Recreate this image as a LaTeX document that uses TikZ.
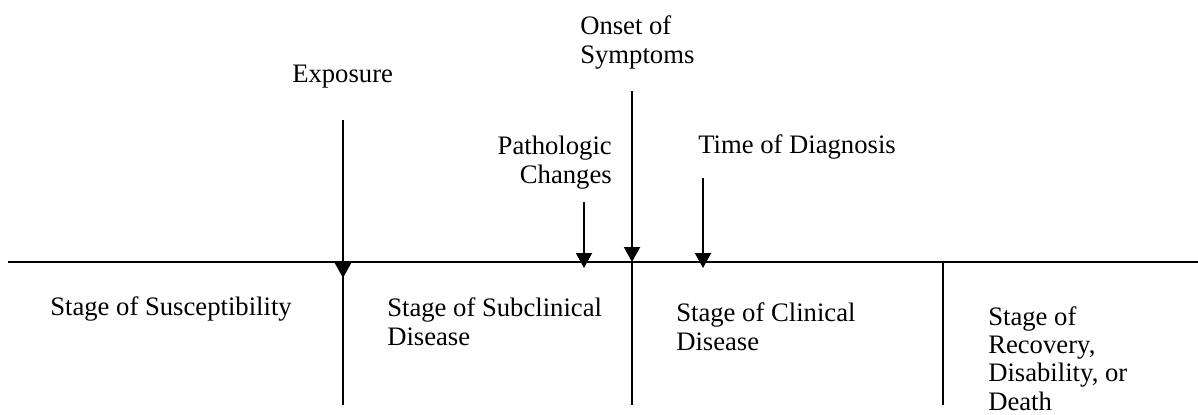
\documentclass[tikz,border=0pt]{standalone}
\usepackage{fontspec}
\setmainfont{Liberation Serif}
\usetikzlibrary{arrows.meta}
\tikzstyle{lbl}=[inner sep=0pt, align=left, anchor=base west,
 font=\fontsize{20}{21.2}\selectfont]
\tikzstyle{pline}=[-, line width=1.1pt]
\tikzstyle{parrow}=[-{Triangle[length=11.25pt,width=12pt]}, line width=1.5pt]

\begin{document}
\begin{tikzpicture}[x=0.75pt,y=-0.75pt]
\useasboundingbox (0,0) rectangle (1198,414);

% time line
\coordinate (TLSTART) at (8,262);
\coordinate (TLEND) at (1198,262);
 \draw[pline] (TLSTART) -- (TLEND);

% events above the line (multi-line labels sit on their last line)
\node (EXPLBL) [lbl] at (292,82) {Exposure};
\coordinate (EXPTOP) at (343,120);
\coordinate (EXPTIP) at (343,278);
 \draw[parrow] (EXPTOP) -- (EXPTIP);
\node (PATHLBL) [lbl, align=right, anchor=base east] at (612,183) {Pathologic\\Changes};
\coordinate (PATHTOP) at (584,202);
\coordinate (PATHTIP) at (584,268);
 \draw[parrow] (PATHTOP) -- (PATHTIP);
\node (ONSETLBL) [lbl] at (580,63) {Onset of\\Symptoms};
\coordinate (ONSETTOP) at (632,91);
\coordinate (ONSETTIP) at (632,262);
 \draw[parrow] (ONSETTOP) -- (ONSETTIP);
\node (DIAGLBL) [lbl] at (698,153) {Time of Diagnosis};
\coordinate (DIAGTOP) at (703,178);
\coordinate (DIAGTIP) at (703,268);
 \draw[parrow] (DIAGTOP) -- (DIAGTIP);

% stage dividers
\coordinate (DIVA) at (343,262);
\coordinate (DIVAEND) at (343,405);
 \draw[pline] (DIVA) -- (DIVAEND);
\coordinate (DIVB) at (632,262);
\coordinate (DIVBEND) at (632,405);
 \draw[pline] (DIVB) -- (DIVBEND);
\coordinate (DIVC) at (943,262);
\coordinate (DIVCEND) at (943,405);
 \draw[pline] (DIVC) -- (DIVCEND);

% stages below the line
\node (SUSCSTG) [lbl] at (50,315) {Stage of Susceptibility};
\node (SUBCLSTG) [lbl] at (387,345) {Stage of Subclinical\\Disease};
\node (CLINSTG) [lbl] at (676,350) {Stage of Clinical\\Disease};
\node (RECOVSTG) [lbl] at (988,410) {Stage of\\Recovery,\\Disability, or\\Death};

\end{tikzpicture}
\end{document}
